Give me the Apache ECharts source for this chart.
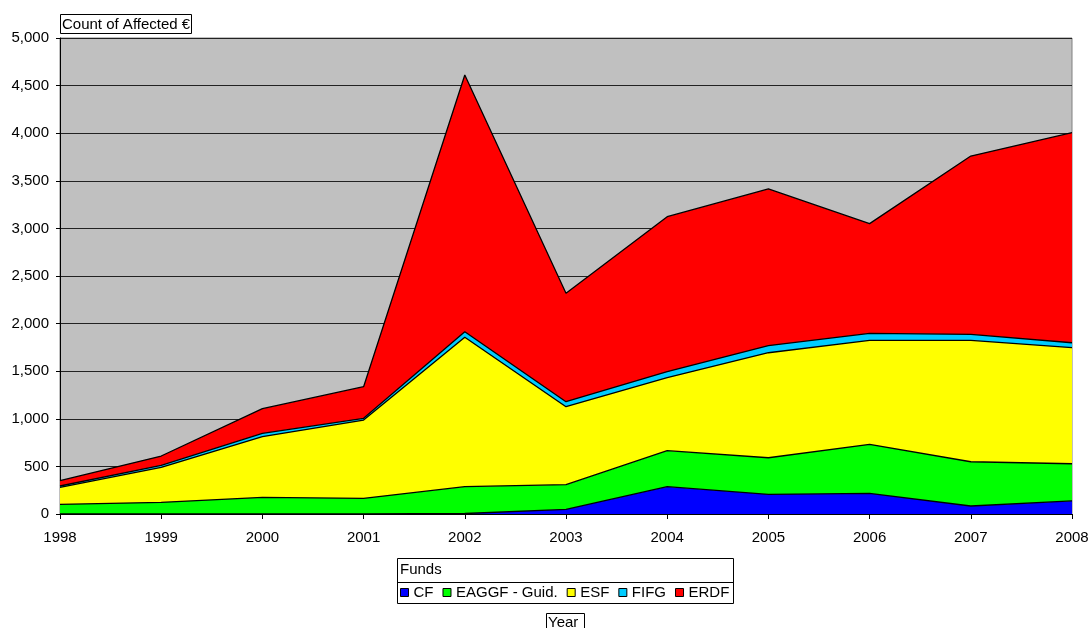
<!DOCTYPE html>
<html>
<head>
<meta charset="utf-8">
<script src="https://cdn.jsdelivr.net/npm/echarts@6/dist/echarts.min.js"></script>
<style>html,body{margin:0;padding:0;background:#fff}#c{width:1088px;height:628px}</style>
</head>
<body>
<div id="c"></div>
<script>
const years = ['1998','1999','2000','2001','2002','2003','2004','2005','2006','2007','2008'];
const seriesNames = ['CF','EAGGF - Guid.','ESF','FIFG','ERDF'];
const cf    = [0, 0, 0, 0, 5, 49, 287, 207, 217, 84, 137];
const eaggf = [102, 123, 175, 165, 282, 259, 378, 384, 515, 465, 391];
const esf   = [178, 367, 637, 822, 1569, 819, 767, 1103, 1092, 1275, 1219];
const fifg  = [14, 21, 35, 18, 59, 53, 63, 74, 74, 63, 52];
const erdf  = [56, 98, 259, 332, 2696, 1138, 1628, 1646, 1152, 1873, 2207];
const colors = ['#0000FF','#00FF00','#FFFF00','#00CCFF','#FF0000'];
const values = [cf, eaggf, esf, fifg, erdf];

const FONT = '"Liberation Sans", Arial, sans-serif';
const FS = 15;
const chart = echarts.init(document.getElementById('c'));
chart.setOption({
  animation: false,
  color: colors,
  textStyle: { fontFamily: FONT, fontSize: FS, color: '#000' },
  title: {
    text: 'Count of Affected €',
    left: 60, top: 14,
    padding: [3, 2, 2, 2],
    borderColor: '#000', borderWidth: 1,
    backgroundColor: '#fff',
    textStyle: { fontFamily: FONT, fontSize: FS, fontWeight: 'normal', color: '#000' }
  },
  grid: {
    left: 60, right: 16, top: 38, bottom: 114,
    outerBoundsMode: 'none',
    containLabel: false,
    show: true, backgroundColor: '#C0C0C0', borderColor: '#808080', borderWidth: 1
  },
  legend: {
    data: seriesNames,
    left: 400, top: 585,
    padding: 0,
    itemGap: 9, itemWidth: 8, itemHeight: 8,
    icon: 'rect',
    itemStyle: { borderColor: '#000', borderWidth: 1 },
    textStyle: { fontFamily: FONT, fontSize: FS, color: '#000' }
  },
  xAxis: {
    type: 'category', data: years, boundaryGap: false,
    axisLine: { lineStyle: { color: '#000', width: 1 } },
    axisTick: { show: true, length: 5, lineStyle: { color: '#000' } },
    axisLabel: { color: '#000', fontFamily: FONT, fontSize: FS, margin: 16 },
    splitLine: { show: false }
  },
  yAxis: {
    type: 'value', min: 0, max: 5000, interval: 500,
    axisLine: { show: true, lineStyle: { color: '#000', width: 1 } },
    axisTick: { show: true, length: 4, lineStyle: { color: '#000' } },
    axisLabel: { color: '#000', fontFamily: FONT, fontSize: FS, margin: 11,
      formatter: v => v.toLocaleString('en-US') },
    splitLine: { show: true, lineStyle: { color: '#222', width: 1 } }
  },
  series: values.map((d, i) => ({
    name: seriesNames[i],
    type: 'line',
    stack: 'total',
    data: d,
    showSymbol: false,
    symbol: 'none',
    lineStyle: { color: '#000', width: 1.3 },
    itemStyle: { color: colors[i] },
    areaStyle: { color: colors[i], opacity: 1 }
  })),
  graphic: [
    { type: 'rect', shape: { x: 397.5, y: 558.5, width: 336, height: 45 },
      style: { fill: 'rgba(0,0,0,0)', stroke: '#000', lineWidth: 1 }, z: 10 },
    { type: 'line', shape: { x1: 397.5, y1: 582.5, x2: 733.5, y2: 582.5 },
      style: { stroke: '#000', lineWidth: 1 }, z: 10 },
    { type: 'text', left: 400, top: 562,
      style: { text: 'Funds', font: FS + 'px ' + FONT, fill: '#000' }, z: 10 },
    { type: 'rect', shape: { x: 546.5, y: 613.5, width: 38, height: 20 },
      style: { fill: '#fff', stroke: '#000', lineWidth: 1 }, z: 10 },
    { type: 'text', left: 548, top: 615,
      style: { text: 'Year', font: FS + 'px ' + FONT, fill: '#000' }, z: 11 }
  ]
});
</script>
</body>
</html>
